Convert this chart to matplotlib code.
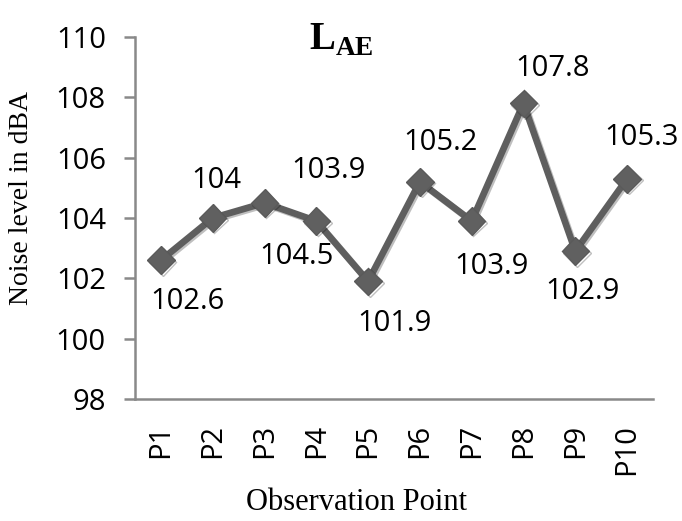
import matplotlib.pyplot as plt
import matplotlib.patheffects as pe

# LAE measured at each observation point
points = ['P1', 'P2', 'P3', 'P4', 'P5', 'P6', 'P7', 'P8', 'P9', 'P10']
lae = [102.6, 104, 104.5, 103.9, 101.9, 105.2, 103.9, 107.8, 102.9, 105.3]
yticks = [98, 100, 102, 104, 106, 108, 110]

# where each value label sits relative to its marker (pixels)
lab_dx = [27, 4, 32, 12, 26, 21, 20, 29, 7, 14]
lab_dy = [-41, 37, -54, 51, -42, 39, -45, 35, -40, 41]

plt.rcParams['mathtext.fontset'] = 'custom'
plt.rcParams['mathtext.rm'] = 'Liberation Serif'
plt.rcParams['mathtext.bf'] = 'Liberation Serif:bold'

num_font = 'Open Sans'
serif = 'Liberation Serif'
W, H = 682, 521

fig = plt.figure(figsize=(W / 100, H / 100), dpi=100)
ax = fig.add_axes([135 / W, 1 - 399 / H, (653 - 135) / W, (399 - 37) / H])

x = list(range(len(points)))
ax.plot(x, lae, color='#5e5e5e', lw=4.8, marker='D', ms=14,
        mfc='#606060', mec='#5a5a5a', mew=1,
        path_effects=[pe.SimpleLineShadow(offset=(1.2, -1.2), alpha=0.25), pe.Normal()],
        zorder=3)

for i, v in enumerate(lae):
    ax.annotate(f'{v:g}', (i, v), xytext=(lab_dx[i], lab_dy[i]),
                textcoords='offset pixels', ha='center', va='center',
                fontsize=21, family=num_font, color='black')

ax.set_xlim(-0.5, len(points) - 0.5)
ax.set_ylim(98, 110)
ax.set_yticks(yticks)
ax.set_yticklabels([str(t) for t in yticks], family=num_font, fontsize=21)
ax.set_xticks(x)
ax.set_xticklabels(points, rotation=90, family=num_font, fontsize=21)
ax.tick_params(axis='x', length=0, pad=18)
ax.tick_params(axis='y', length=8, width=1.8, color='#898989', pad=13)

for s in ['top', 'right']:
    ax.spines[s].set_visible(False)
for s in ['left', 'bottom']:
    ax.spines[s].set_color('#898989')
    ax.spines[s].set_linewidth(1.8)

fig.text(0.5, 1 - 50 / H, r'$\mathbf{L}_{\mathbf{AE}}$', ha='center', va='baseline',
         fontsize=28)
fig.text(22 / W, 1 - 198 / H, 'Noise level in dBA', rotation=90, ha='center', va='center',
         family=serif, fontsize=20)
fig.text(356 / W, 1 - 510 / H, 'Observation Point', ha='center', va='baseline',
         family=serif, fontsize=22)

fig.savefig('out.png', dpi=100)
